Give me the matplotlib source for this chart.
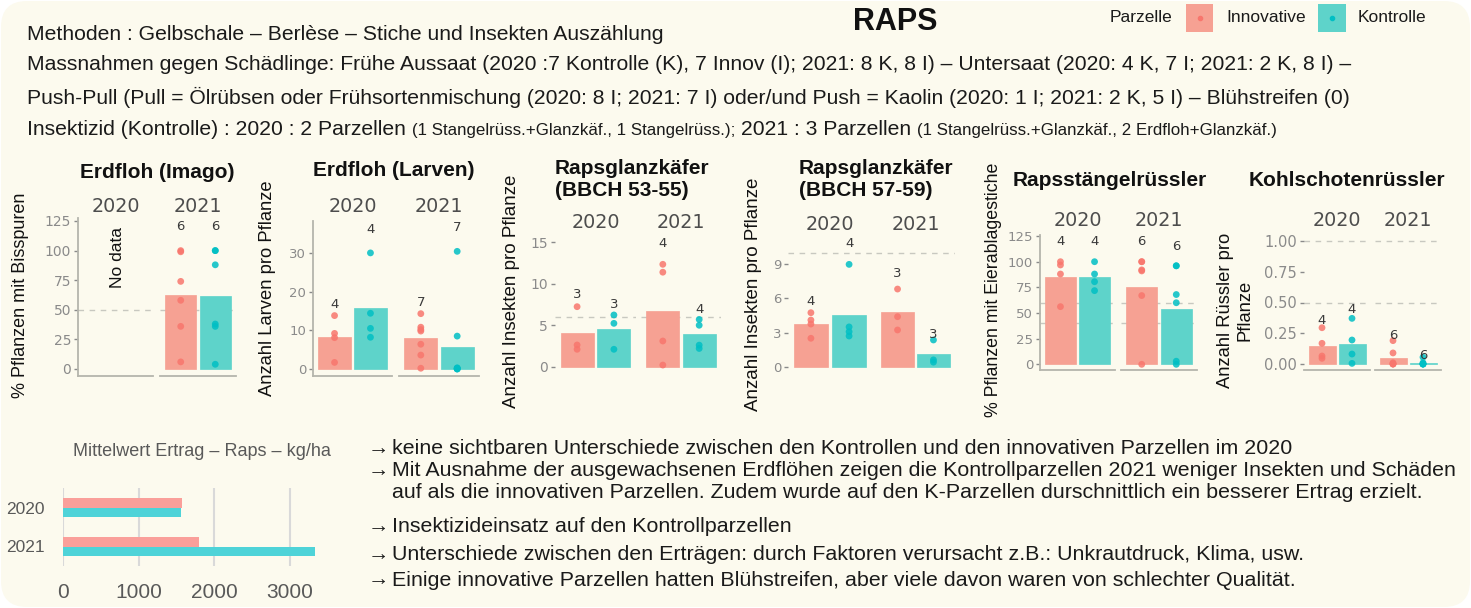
import matplotlib
matplotlib.use("Agg")
import matplotlib.pyplot as plt
import matplotlib.patches as mpatches
import matplotlib.transforms as mtransforms
from matplotlib.ticker import FormatStrFormatter
import numpy as np

W, H = 1471, 608
plt.rcParams['font.family'] = ['Liberation Sans', 'DejaVu Sans']

# ---- data ----
years = ['2020', '2021']
groups = ['Innovative', 'Kontrolle']

# order in each list: 2020 Innov, 2020 Kontrolle, 2021 Innov, 2021 Kontrolle
imago_bars = [np.nan, np.nan, 62.5, 61.6]
imago_pts = [[], [], [100, 99, 74, 58, 36, 6], [100, 100, 88, 38, 36, 4]]
imago_n = [None, None, 6, 6]

larven_bars = [8.3, 15.8, 8.0, 5.7]
larven_pts = [[13.8, 9.2, 8.1, 1.7], [30.0, 14.4, 10.5, 8.2],
              [14.3, 10.8, 10.2, 9.8, 6.4, 3.6, 0.2], [30.4, 8.5, 0.3, 0.2, 0.1, 0, 0]]
larven_n = [4, 4, 7, 7]

glanz1_bars = [4.06, 4.55, 6.76, 3.98]
glanz1_pts = [[7.24, 2.62, 2.1], [6.24, 5.23, 2.1], [12.35, 11.4, 3.1, 0.2], [5.7, 5.0, 2.6, 2.2]]
glanz1_n = [3, 3, 4, 4]

glanz2_bars = [3.78, 4.55, 4.84, 1.12]
glanz2_pts = [[4.75, 4.1, 3.75, 2.5], [9.0, 3.5, 3.08, 2.7], [6.83, 4.4, 3.23], [2.35, 0.6, 0.4]]
glanz2_n = [4, 4, 3, 3]

staengel_bars = [85.1, 85.1, 75.0, 53.9]
staengel_pts = [[100, 96.8, 88, 56.2], [100, 88, 80.5, 71.8],
                [100, 100, 92, 91, 67, 0], [96, 96, 68, 60, 3, 0]]
staengel_n = [4, 4, 6, 6]

schoten_bars = [0.149, 0.163, 0.046, 0.011]
schoten_pts = [[0.295, 0.168, 0.065, 0.046], [0.371, 0.195, 0.081, 0.005],
               [0.19, 0.09, 0.01, 0, 0, 0], [0.055, 0.01, 0, 0, 0, 0]]
schoten_n = [4, 4, 6, 6]

# Mittelwert Ertrag (kg/ha)
yield_years = ['2020', '2021']
yield_inno = [1572, 1800]
yield_kontr = [1559, 3333]

header_lines = [
    "Methoden : Gelbschale \u2013 Berl\u00e8se \u2013 Stiche und Insekten Ausz\u00e4hlung",
    "Massnahmen gegen Sch\u00e4dlinge: Fr\u00fche Aussaat (2020 :7 Kontrolle (K), 7 Innov (I); 2021: 8 K, 8 I) \u2013 Untersaat (2020: 4 K, 7 I; 2021: 2 K, 8 I) \u2013",
    "Push-Pull (Pull = \u00d6lr\u00fcbsen oder Fr\u00fchsortenmischung (2020: 8 I; 2021: 7 I) oder/und Push = Kaolin (2020: 1 I; 2021: 2 K, 5 I) \u2013 Bl\u00fchstreifen (0)",
]
insekt_parts = [
    ("Insektizid (Kontrolle) : 2020 : 2 Parzellen", 15.2),
    ("(1 Stangelr\u00fcss.+Glanzk\u00e4f., 1 Stangelr\u00fcss.);", 12.2),
    ("2021 : 3 Parzellen", 15.2),
    ("(1 Stangelr\u00fcss.+Glanzk\u00e4f., 2 Erdfloh+Glanzk\u00e4f.)", 12.2),
]
bullets = [
    (True, "keine sichtbaren Unterschiede zwischen den Kontrollen und den innovativen Parzellen im 2020"),
    (True, "Mit Ausnahme der ausgewachsenen Erdfl\u00f6hen zeigen die Kontrollparzellen 2021 weniger Insekten und Sch\u00e4den"),
    (False, "auf als die innovativen Parzellen. Zudem wurde auf den K-Parzellen durschnittlich ein besserer Ertrag erzielt."),
    (True, "Insektizideinsatz auf den Kontrollparzellen"),
    (True, "Unterschiede zwischen den Ertr\u00e4gen: durch Faktoren verursacht z.B.: Unkrautdruck, Klima, usw."),
    (True, "Einige innovative Parzellen hatten Bl\u00fchstreifen, aber viele davon waren von schlechter Qualit\u00e4t."),
]

# ---- colours ----
BG = '#FCFAEE'
BAR_C = ['#F6A193', '#5ED3CA']
PT_C = ['#F8766D', '#00BFC4']
YBAR_C = ['#FA9F9A', '#4ED3D8']
AX_GREY = '#B5B5AC'
TICK_GREY = '#8a8a8a'


def px_rect(l, t, r, b):
    return [l / W, 1 - b / H, (r - l) / W, (b - t) / H]


def fx(x):
    return x / W


def fy(y):
    return 1 - y / H


fig = plt.figure(figsize=(W / 100, H / 100), dpi=100, facecolor='white')
bg = mpatches.FancyBboxPatch((1, 1), W - 2, H - 2, boxstyle='round,pad=0,rounding_size=26',
                             transform=mtransforms.IdentityTransform(),
                             facecolor=BG, edgecolor='none', zorder=-10)
fig.patches.append(bg)

# ---- panel layouts ----
panels = [
    dict(bars=imago_bars, pts=imago_pts, n=imago_n, facets=[(78, 153), (160, 236)],
         top=218, bot=376, y0=369, ppu=1.184, ticks=[0, 25, 50, 75, 100, 125], fmt='%g',
         hl=[50], left=True, bottom=True, title=["Erdfloh (Imago)"], title_x=80, title_y=[173],
         strip_y=207, ylabel="% Pflanzen mit Bisspuren", yl_x=21, yl_y=295, yl_fs=13,
         tick_fs=10),
    dict(bars=larven_bars, pts=larven_pts, n=larven_n, facets=[(313, 392), (399, 479)],
         top=221, bot=376, y0=369, ppu=3.87, ticks=[0, 10, 20, 30], fmt='%g',
         hl=[], left=True, bottom=True, title=["Erdfloh (Larven)"], title_x=313, title_y=[170],
         strip_y=207, ylabel="Anzahl Larven pro Pflanze", yl_x=268, yl_y=288, yl_fs=13.2,
         tick_fs=9.5),
    dict(bars=glanz1_bars, pts=glanz1_pts, n=glanz1_n, facets=[(555, 636), (641, 721)],
         top=236, bot=373, y0=366.7, ppu=8.29, ticks=[0, 5, 10, 15], fmt='%g',
         hl=[6], left=False, bottom=False, title=["Rapsglanzk\u00e4fer", "(BBCH 53-55)"], title_x=555,
         title_y=[168, 190], strip_y=223, ylabel="Anzahl Insekten pro Pflanze", yl_x=512, yl_y=291,
         yl_fs=13.5, tick_fs=10),
    dict(bars=glanz2_bars, pts=glanz2_pts, n=glanz2_n, facets=[(788, 872), (876, 955)],
         top=248, bot=373, y0=366.7, ppu=11.37, ticks=[0, 3, 6, 9], fmt='%g',
         hl=[10], left=False, bottom=False, title=["Rapsglanzk\u00e4fer", "(BBCH 57-59)"], title_x=799,
         title_y=[168, 190], strip_y=224, ylabel="Anzahl Insekten pro Pflanze", yl_x=753, yl_y=294,
         yl_fs=13.5, tick_fs=9.5),
    dict(bars=staengel_bars, pts=staengel_pts, n=staengel_n, facets=[(1040, 1115), (1121, 1197)],
         top=235, bot=370, y0=364.3, ppu=1.026, ticks=[0, 25, 50, 75, 100, 125], fmt='%g',
         hl=[40, 60], left=True, bottom=True, title=["Rapsst\u00e4ngelr\u00fcssler"], title_x=1013,
         title_y=[181], strip_y=221, ylabel="% Pflanzen mit Eierablagestiche", yl_x=994, yl_y=290,
         yl_fs=12.8, tick_fs=9.5),
    dict(bars=schoten_bars, pts=schoten_pts, n=schoten_n, facets=[(1304, 1370), (1375, 1441)],
         top=238, bot=370, y0=364, ppu=123, ticks=[0, 0.25, 0.5, 0.75, 1.0], fmt='%.2f',
         hl=[0.5, 1.0], left=False, bottom=True, title=["Kohlschotenr\u00fcssler"], title_x=1249,
         title_y=[180], strip_y=221, ylabel="Anzahl R\u00fcssler pro\nPflanze", yl_x=1235, yl_y=310,
         yl_fs=13.2, tick_fs=10.5),
]

for p in panels:
    lo = (p['y0'] - p['bot']) / p['ppu']
    hi = (p['y0'] - p['top']) / p['ppu']
    for i, (xl, xr) in enumerate(p['facets']):
        ax = fig.add_axes(px_rect(xl, p['top'], xr, p['bot']))
        ax.patch.set_alpha(0)
        ax.set_xlim(-0.6, 1.6)
        ax.set_ylim(lo, hi)
        for v in p['hl']:
            ax.axhline(v, color='#c8c8c0', lw=1, ls=(0, (4, 4)), zorder=0)
        vals = p['bars'][2 * i:2 * i + 2]
        if not np.all(np.isnan(vals)):
            ax.bar([0, 1], vals, width=0.9, color=BAR_C, edgecolor=BAR_C, lw=0.5, zorder=1)
        for j in range(2):
            pts = p['pts'][2 * i + j]
            if len(pts) == 0:
                continue
            ax.scatter(np.full(len(pts), j), pts, s=24, color=PT_C[j], alpha=0.85,
                       edgecolors='none', zorder=2)
            ax.text(j, 1.2 * max(pts), str(p['n'][2 * i + j]), ha='center', va='center',
                    fontsize=9.5, color='#3a3a3a', family='DejaVu Sans', zorder=3)
        for s in ['top', 'right']:
            ax.spines[s].set_visible(False)
        ax.spines['left'].set_visible(p['left'] and i == 0)
        ax.spines['bottom'].set_visible(p['bottom'])
        for s in ['left', 'bottom']:
            ax.spines[s].set_color(AX_GREY)
            ax.spines[s].set_linewidth(1.3)
        ax.set_xticks([])
        if i == 0:
            ax.set_yticks(p['ticks'])
            ax.yaxis.set_major_formatter(FormatStrFormatter(p['fmt']))
            ax.tick_params(axis='y', length=3, width=1, color=TICK_GREY, labelcolor=TICK_GREY,
                           labelsize=p['tick_fs'], pad=2)
            for lab in ax.get_yticklabels():
                lab.set_family('DejaVu Sans')
        else:
            ax.set_yticks([])
        fig.text(fx((xl + xr) / 2), fy(p['strip_y']), years[i], ha='center', va='center',
                 fontsize=13.8, color='#4d4d4d', family='DejaVu Sans')
    for t, ty in zip(p['title'], p['title_y']):
        fig.text(fx(p['title_x']), fy(ty), t, ha='left', va='center', fontsize=15,
                 fontweight='bold', color='#111111')
    fig.text(fx(p['yl_x']), fy(p['yl_y']), p['ylabel'], rotation=90, ha='center', va='center',
             fontsize=p['yl_fs'], color='#111111', multialignment='center')

# no data note
fig.text(fx(117), fy(257), "No data", rotation=90, ha='center', va='center', fontsize=12.5,
         color='#111111')

# ---- header ----
fig.text(fx(895), fy(22), "RAPS", ha='center', va='center', fontsize=22, fontweight='bold',
         color='#111111')
head_y = [35, 65, 97]
for line, y in zip(header_lines, head_y):
    fig.text(fx(27), fy(y), line, ha='left', va='center', fontsize=15.2, color='#1a1a1a')

renderer = fig.canvas.get_renderer()
sp = fig.text(0, 0, 'a a', fontsize=15.2)
sp2 = fig.text(0, 0, 'aa', fontsize=15.2)
gap = sp.get_window_extent(renderer).width - sp2.get_window_extent(renderer).width
sp.remove()
sp2.remove()
x = 27
for txt, fs in insekt_parts:
    t = fig.text(fx(x), fy(135), txt, ha='left', va='baseline', fontsize=fs, color='#1a1a1a')
    x += t.get_window_extent(renderer=renderer).width + gap

# legend
fig.text(fx(1110), fy(18), "Parzelle", ha='left', va='center', fontsize=12.5, color='#1a1a1a')
for (l, r), lab, lx, bc, pc in [((1186, 1213), groups[0], 1226, BAR_C[0], PT_C[0]),
                                ((1318, 1346), groups[1], 1358, BAR_C[1], PT_C[1])]:
    rect = mpatches.Rectangle((fx(l), fy(32)), (r - l) / W, 28 / H, transform=fig.transFigure,
                              facecolor=bc, edgecolor='none')
    fig.patches.append(rect)
    fig.add_artist(plt.Line2D([fx((l + r) / 2)], [fy(18)], marker='o', ms=3, color=pc,
                              transform=fig.transFigure))
    fig.text(fx(lx), fy(18), lab, ha='left', va='center', fontsize=12.5, color='#1a1a1a')

# ---- yield chart ----
ax = fig.add_axes(px_rect(63, 488, 320, 566))
ax.patch.set_alpha(0)
yy = np.arange(len(yield_years))
h = 0.256
ax.barh(yy - h / 2, yield_inno, height=h, color=YBAR_C[0], zorder=2)
ax.barh(yy + h / 2, yield_kontr, height=h, color=YBAR_C[1], zorder=2)
ax.set_ylim(1.5, -0.5)
ax.set_xlim(0, 3400)
ax.set_yticks(yy)
ax.set_yticklabels(yield_years)
ax.set_xticks([0, 1000, 2000, 3000])
ax.grid(axis='x', color='#d9d9d9', lw=1.5, zorder=0)
ax.set_axisbelow(True)
for s in ax.spines.values():
    s.set_visible(False)
ax.tick_params(axis='y', length=0, labelsize=12.5, labelcolor='#595959', pad=13)
ax.tick_params(axis='x', length=0, labelsize=15, labelcolor='#595959', pad=12)
fig.text(fx(202), fy(452), "Mittelwert Ertrag \u2013 Raps \u2013 kg/ha", ha='center', va='center',
         fontsize=13, color='#595959')

# ---- bullet notes ----
bullet_y = [449, 471, 493, 527, 555, 580]
for (arrow, txt), y in zip(bullets, bullet_y):
    if arrow:
        fig.text(fx(368), fy(y), "\u2192", ha='left', va='center', fontsize=15.4, color='#1a1a1a')
    fig.text(fx(392), fy(y), txt, ha='left', va='center', fontsize=15.4, color='#1a1a1a')

fig.savefig('out.png', dpi=100, facecolor='white')
